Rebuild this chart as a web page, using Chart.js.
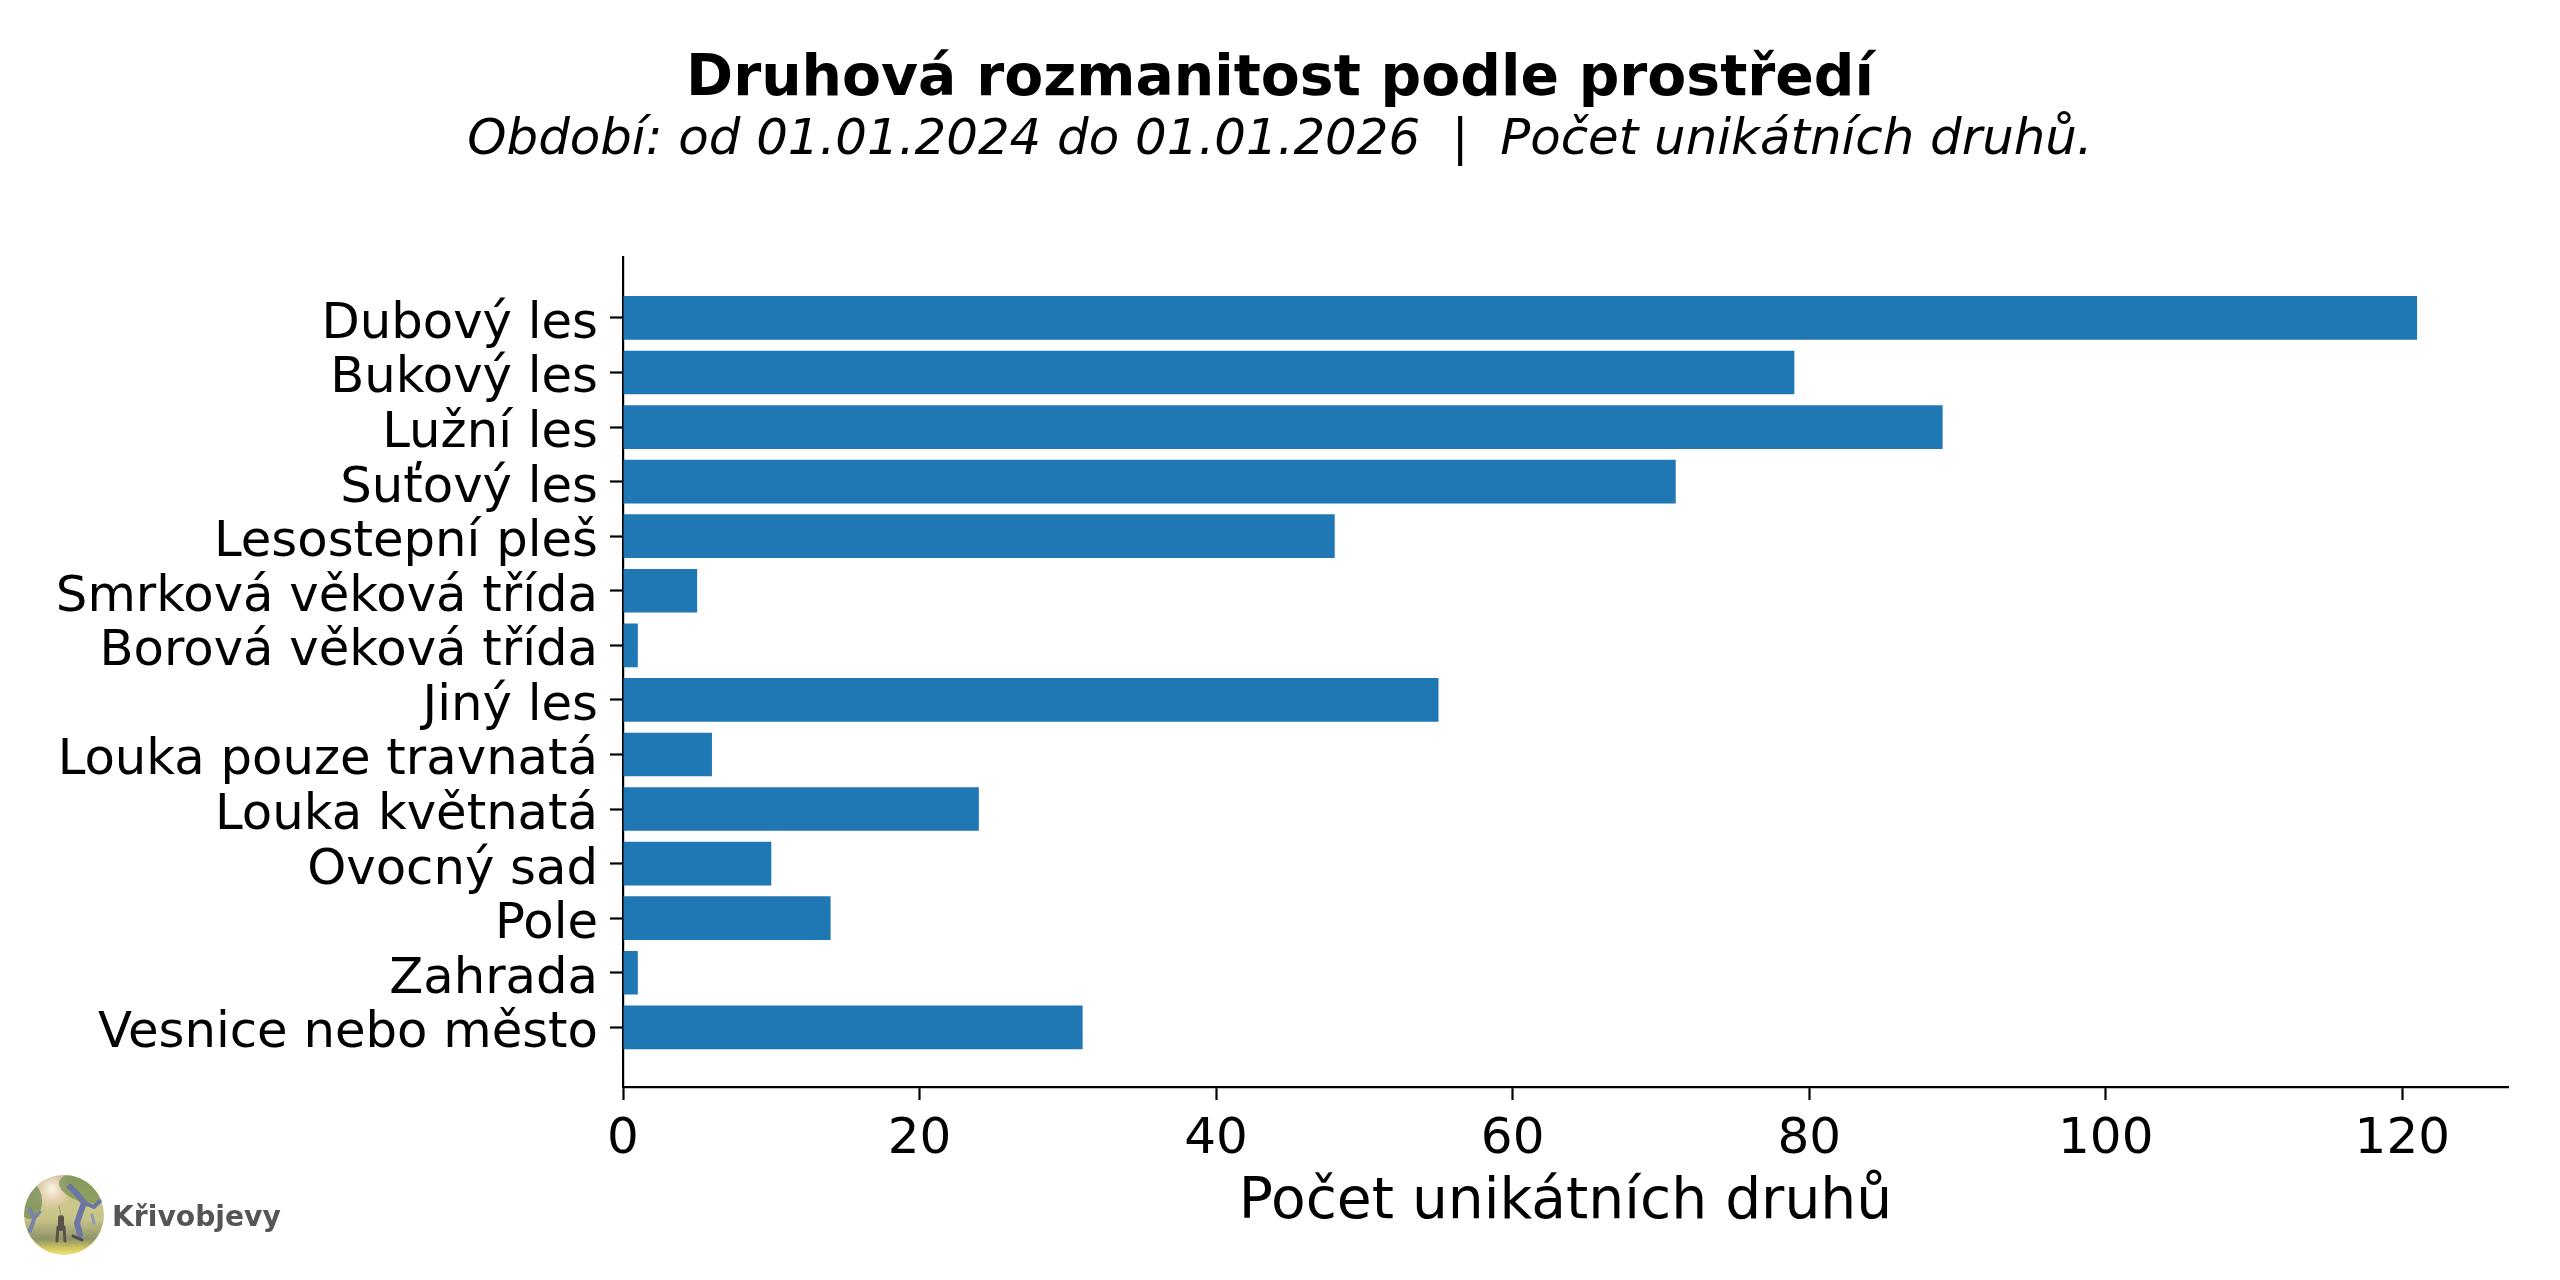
<!DOCTYPE html>
<html>
<head>
<meta charset="utf-8">
<script src="https://cdn.jsdelivr.net/npm/chart.js@4"></script>
<style>
html, body { margin: 0; padding: 0; background: #fff; }
canvas { display: block; }
</style>
</head>
<body>
<canvas id="chart" width="2560" height="1280"></canvas>
<script>
const habitats = ['Dubový les', 'Bukový les', 'Lužní les', 'Suťový les', 'Lesostepní pleš',
    'Smrková věková třída', 'Borová věková třída', 'Jiný les', 'Louka pouze travnatá',
    'Louka květnatá', 'Ovocný sad', 'Pole', 'Zahrada', 'Vesnice nebo město'];
const speciesCount = [121, 79, 89, 71, 48, 5, 1, 55, 6, 24, 10, 14, 1, 31];
const xTicks = [0, 20, 40, 60, 80, 100, 120];

const titleText = 'Druhová rozmanitost podle prostředí';
const subtitleText = 'Období: od 01.01.2024 do 01.01.2026  |  Počet unikátních druhů.';
const xLabel = 'Počet unikátních druhů';
const logoText = 'Křivobjevy';

const FONT = '"DejaVu Sans"';

// small round painting + name in the bottom left corner
const logoPlugin = {
    id: 'logo',
    afterDraw(chart) {
        const ctx = chart.ctx;
        const cx = 64, cy = 1215, r = 40;

        function stroke(color, width, points) {
            ctx.strokeStyle = color;
            ctx.lineWidth = width;
            ctx.lineCap = 'round';
            ctx.beginPath();
            points.forEach((p, i) => {
                if (i === 0) ctx.moveTo(cx + p[0], cy + p[1]);
                else ctx.lineTo(cx + p[0], cy + p[1]);
            });
            ctx.stroke();
        }

        ctx.save();
        ctx.beginPath();
        ctx.arc(cx, cy, r, 0, Math.PI * 2);
        ctx.clip();

        const bg = ctx.createLinearGradient(0, cy - r, 0, cy + r);
        bg.addColorStop(0, '#a9b287');
        bg.addColorStop(0.3, '#cfc88c');
        bg.addColorStop(0.55, '#c8c488');
        bg.addColorStop(0.8, '#8f9468');
        bg.addColorStop(0.93, '#d8cc62');
        bg.addColorStop(1, '#efe28a');
        ctx.fillStyle = bg;
        ctx.fillRect(cx - r, cy - r, r * 2, r * 2);

        // light through the trees
        const glow = ctx.createRadialGradient(cx - 12, cy - 26, 2, cx - 12, cy - 26, 20);
        glow.addColorStop(0, '#f6efdc');
        glow.addColorStop(0.5, 'rgba(238, 214, 190, 0.8)');
        glow.addColorStop(1, 'rgba(238, 214, 190, 0)');
        ctx.fillStyle = glow;
        ctx.fillRect(cx - r, cy - r, r * 2, r * 2);

        // canopy
        ctx.fillStyle = 'rgba(120, 145, 80, 0.75)';
        ctx.beginPath();
        ctx.ellipse(cx + 20, cy - 26, 26, 13, 0.3, 0, Math.PI * 2);
        ctx.fill();
        ctx.fillStyle = 'rgba(110, 135, 85, 0.7)';
        ctx.beginPath();
        ctx.ellipse(cx - 34, cy - 14, 12, 18, 0, 0, Math.PI * 2);
        ctx.fill();

        // trunks
        stroke('#6c76a4', 6, [[16, 20], [13, 8], [17, -4], [20, -12], [14, -20], [6, -28]]);
        stroke('#6c76a4', 4, [[20, -12], [30, -8], [36, -14]]);
        stroke('#7a84aa', 4, [[-34, 16], [-30, 4], [-34, -6]]);
        stroke('#7a84aa', 3, [[-30, 4], [-24, -3]]);
        stroke('#8d96b2', 3, [[30, 8], [28, 0]]);

        // figure and bird
        stroke('#5a5048', 3, [[-7, 26], [-6, 12]]);
        stroke('#5a5048', 3, [[1, 26], [0, 12]]);
        stroke('#5a5048', 6, [[-3, 13], [-3, 3]]);
        stroke('#9a9488', 1, [[-3, 1], [-5, -9]]);
        stroke('#4a4a50', 3, [[9, 21], [18, 25]]);
        ctx.restore();

        ctx.save();
        ctx.fillStyle = '#555555';
        ctx.font = 'bold 28.2px ' + FONT;
        ctx.textBaseline = 'middle';
        ctx.fillText(logoText, 112, 1219);
        ctx.restore();
    }
};

new Chart(document.getElementById('chart'), {
    type: 'bar',
    data: {
        datasets: [{
            data: speciesCount.map((v, i) => ({ x: v, y: i })),
            backgroundColor: '#1f77b4',
            categoryPercentage: 0.8,
            barPercentage: 1
        }]
    },
    plugins: [logoPlugin],
    options: {
        indexAxis: 'y',
        responsive: false,
        animation: false,
        layout: { padding: { left: 52, right: 52, top: 0, bottom: 0 } },
        plugins: {
            legend: { display: false },
            tooltip: { enabled: false },
            title: {
                display: true,
                text: titleText,
                color: '#000',
                font: { family: FONT, size: 56.8, weight: 'bold', lineHeight: 1.1 },
                padding: { top: 49.4, bottom: 0 }
            },
            subtitle: {
                display: true,
                text: subtitleText,
                color: '#000',
                font: { family: FONT, size: 49.8, style: 'italic', lineHeight: 1.17 },
                padding: { top: 0, bottom: 87.1 }
            }
        },
        scales: {
            x: {
                type: 'linear',
                min: 0,
                max: 127.13,
                bounds: 'data',
                afterBuildTicks: axis => { axis.ticks = xTicks.map(v => ({ value: v })); },
                afterFit: axis => { axis.height = 193; },
                ticks: { color: '#000', font: { family: FONT, size: 50 }, padding: 10, maxRotation: 0 },
                grid: { drawOnChartArea: false, color: '#000', tickLength: 13, tickWidth: 2.2 },
                border: { color: '#000', width: 2.2 },
                title: {
                    display: true,
                    text: xLabel,
                    color: '#000',
                    font: { family: FONT, size: 56.7 },
                    padding: { top: 0, bottom: 43 }
                }
            },
            y: {
                type: 'linear',
                reverse: true,
                offset: false, // bar charts turn this on for the index axis
                min: -1.112,
                max: 14.094,
                bounds: 'data',
                afterBuildTicks: axis => { axis.ticks = habitats.map((h, i) => ({ value: i })); },
                afterFit: axis => { axis.width = 571; },
                ticks: {
                    color: '#000',
                    font: { family: FONT, size: 49.7 },
                    padding: 12,
                    labelOffset: 7,
                    autoSkip: false,
                    callback: value => habitats[value]
                },
                grid: { offset: false, drawOnChartArea: false, color: '#000', tickLength: 13, tickWidth: 2.2 },
                border: { color: '#000', width: 2.2 }
            }
        }
    }
});
</script>
</body>
</html>
